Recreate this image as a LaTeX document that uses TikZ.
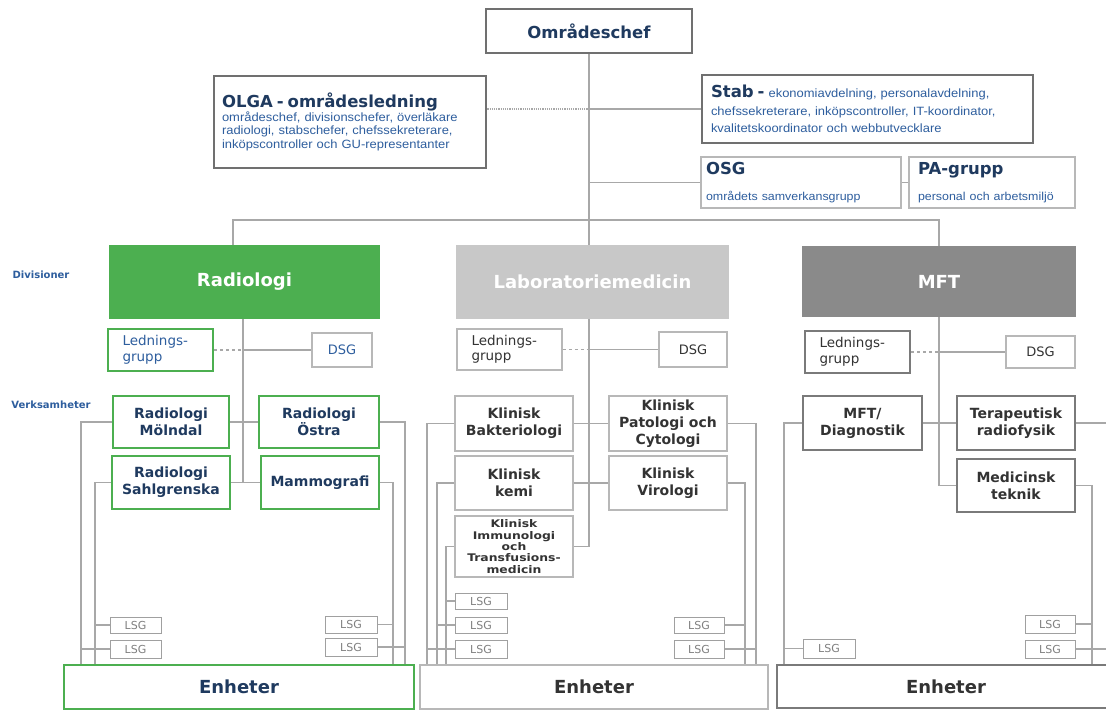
\documentclass[tikz,border=0pt]{standalone}
\usepackage{fontspec}
\setmainfont{DejaVu Sans}
\newfontfamily\smallfont[FakeStretch=1.08]{Liberation Sans}
\newfontfamily\widefont[FakeStretch=1.18]{DejaVu Sans}
\definecolor{navy}{HTML}{1F3A5F}
\definecolor{smallblue}{HTML}{2E5E9E}
\definecolor{labtext}{HTML}{333333}
\definecolor{linegray}{HTML}{A8A8A8}
\definecolor{topborder}{HTML}{707070}
\definecolor{lightborder}{HTML}{B8B8B8}
\definecolor{rgreen}{HTML}{4CAF50}
\definecolor{labfill}{HTML}{C8C8C8}
\definecolor{mftfill}{HTML}{8A8A8A}
\definecolor{mftborder}{HTML}{7A7A7A}
\definecolor{lsgborder}{HTML}{A0A0A0}
\newcommand\obox[7]{\node[#6, minimum width={#4-#2}, minimum height={#5-#3}, inner sep=0pt] (#1) at ({(#2+#4)/2},{(#3+#5)/2}) {#7};}
\begin{document}
\begin{tikzpicture}[x=1pt,y=-1pt,
  conn/.style={draw=linegray, line width=1.2pt},
  topbox/.style={draw=topborder, line width=2.6pt, fill=white, text=navy},
  thinbox/.style={draw=lightborder, line width=1.3pt, fill=white, text=navy},
  headfont/.style={font=\bfseries\fontsize{16.5}{19}\selectfont},
  divbox/.style={text=white, font=\bfseries\fontsize{18}{21}\selectfont},
  gbox/.style={draw=rgreen, line width=2.2pt, fill=white, text=navy, align=center, font=\bfseries\fontsize{14}{17}\selectfont},
  lbox/.style={draw=lightborder, line width=1.5pt, fill=white, text=labtext, align=center, font=\bfseries\fontsize{14}{17}\selectfont},
  mbox/.style={draw=mftborder, line width=2.2pt, fill=white, text=labtext, align=center, font=\bfseries\fontsize{14}{17}\selectfont},
  lednbox/.style={align=left, text width=76pt, font=\fontsize{13.5}{15.5}\selectfont},
  dsgbox/.style={draw=lightborder, line width=1.3pt, fill=white, font=\fontsize{13}{15}\selectfont},
  lsgbox/.style={draw=lsgborder, line width=1pt, fill=white, text=gray, font=\fontsize{11}{12}\selectfont},
  enhbox/.style={fill=white, font=\bfseries\fontsize{18}{21}\selectfont},
  sidelabel/.style={text=smallblue, font=\bfseries\fontsize{10}{12}\selectfont}
]
\clip (0,0) rectangle (1106,711);
\fill[white] (0,0) rectangle (1106,711);

% top level
\obox{chef}{486}{9}{692}{53}{topbox, headfont}{Områdeschef}
\obox{olga}{214}{76}{486}{168}{topbox, align=left, text width=256pt, font=\fontsize{12}{13.4}\selectfont}{{\bfseries\fontsize{16.5}{19}\selectfont OLGA - områdesledning}\\{\smallfont\color{smallblue}\fontsize{12}{13.4}\selectfont områdeschef, divisionschefer, överläkare\\radiologi, stabschefer, chefssekreterare,\\inköpscontroller och GU-representanter}}
\obox{stab}{702}{75}{1033}{143}{topbox, align=left, text width=313pt, font=\fontsize{12}{17.5}\selectfont}{{\bfseries\fontsize{16.5}{17.5}\selectfont Stab -} {\smallfont\color{smallblue}\fontsize{12}{17.5}\selectfont ekonomiavdelning, personalavdelning,\\chefssekreterare, inköpscontroller, IT-koordinator,\\kvalitetskoordinator och webbutvecklare}}
\obox{osg}{701}{157}{901}{208}{thinbox, align=left, text width=190pt, font=\fontsize{12}{26}\selectfont}{{\bfseries\fontsize{16.5}{26}\selectfont OSG}\\{\smallfont\color{smallblue}\fontsize{11.5}{26}\selectfont områdets samverkansgrupp}}
\obox{pa}{909}{157}{1075}{208}{thinbox, align=left, text width=148pt, font=\fontsize{12}{26}\selectfont}{{\bfseries\fontsize{16.5}{26}\selectfont PA-grupp}\\{\smallfont\color{smallblue}\fontsize{11.5}{26}\selectfont personal och arbetsmiljö}}

% side labels
\node[sidelabel] (divlab) at (41,275) {Divisioner};
\node[sidelabel] (verklab) at (51,405) {Verksamheter};

% divisions
\obox{rad}{109}{245}{380}{319}{divbox, fill=rgreen}{Radiologi}
\obox{lab}{456}{245}{729}{319}{divbox, fill=labfill}{Laboratoriemedicin}
\obox{mft}{802}{246}{1076}{317}{divbox, fill=mftfill}{MFT}

% ledningsgrupp / DSG
\obox{rled}{108}{329}{213}{371}{draw=rgreen, line width=2.2pt, fill=white, text=smallblue, lednbox}{Lednings-\\grupp}
\obox{rdsg}{312}{333}{372}{367}{dsgbox, text=smallblue}{DSG}
\obox{lled}{457}{329}{562}{370}{draw=lightborder, line width=1.5pt, fill=white, text=labtext, lednbox}{Lednings-\\grupp}
\obox{ldsg}{659}{332}{727}{367}{dsgbox, text=labtext}{DSG}
\obox{mled}{805}{331}{910}{373}{draw=mftborder, line width=2.2pt, fill=white, text=labtext, lednbox}{Lednings-\\grupp}
\obox{mdsg}{1006}{336}{1075}{368}{dsgbox, text=labtext}{DSG}

% Radiologi verksamheter
\obox{rmol}{113}{396}{229}{448}{gbox}{Radiologi\\Mölndal}
\obox{rost}{259}{396}{379}{448}{gbox}{Radiologi\\Östra}
\obox{rsah}{112}{456}{230}{509}{gbox}{Radiologi\\Sahlgrenska}
\obox{rmam}{261}{456}{379}{509}{gbox}{Mammografi}
\obox{rl1}{110}{617}{161}{633}{lsgbox}{LSG}
\obox{rl2}{110}{640}{161}{658}{lsgbox}{LSG}
\obox{rr1}{325}{616}{377}{633}{lsgbox}{LSG}
\obox{rr2}{325}{638}{377}{656}{lsgbox}{LSG}
\obox{renh}{64}{665}{414}{709}{enhbox, draw=rgreen, line width=2.6pt, text=navy}{Enheter}

% Laboratoriemedicin verksamheter
\obox{lbak}{455}{396}{573}{451}{lbox}{Klinisk\\Bakteriologi}
\obox{lpat}{609}{396}{727}{451}{lbox}{Klinisk\\Patologi och\\Cytologi}
\obox{lkem}{455}{456}{573}{510}{lbox}{Klinisk\\kemi}
\obox{lvir}{609}{456}{727}{510}{lbox}{Klinisk\\Virologi}
\obox{limm}{455}{516}{573}{577}{lbox, font=\widefont\bfseries\fontsize{10.5}{11.4}\selectfont}{Klinisk\\Immunologi\\och\\Transfusions-\\medicin}
\obox{ll1}{455}{593}{507}{609}{lsgbox}{LSG}
\obox{ll2}{455}{617}{507}{633}{lsgbox}{LSG}
\obox{ll3}{455}{640}{507}{658}{lsgbox}{LSG}
\obox{lr1}{674}{617}{724}{633}{lsgbox}{LSG}
\obox{lr2}{674}{640}{724}{658}{lsgbox}{LSG}
\obox{lenh}{420}{665}{768}{709}{enhbox, draw=lightborder, line width=2pt, text=labtext}{Enheter}

% MFT verksamheter
\obox{mdia}{803}{396}{922}{450}{mbox}{MFT/\\Diagnostik}
\obox{mter}{957}{396}{1075}{450}{mbox}{Terapeutisk\\radiofysik}
\obox{mmed}{957}{459}{1075}{512}{mbox}{Medicinsk\\teknik}
\obox{ml1}{803}{639}{855}{658}{lsgbox}{LSG}
\obox{mr1}{1025}{615}{1075}{633}{lsgbox}{LSG}
\obox{mr2}{1025}{640}{1075}{658}{lsgbox}{LSG}
\obox{menh}{777}{665}{1115}{708}{enhbox, draw=mftborder, line width=2.4pt, text=labtext}{Enheter}

% helper x positions
\coordinate (hL) at (233,220);
\coordinate (hR) at (939,220);
\coordinate (xRs) at (243,0);
\coordinate (xRa) at (81,0);
\coordinate (xRb) at (95,0);
\coordinate (xRc) at (393,0);
\coordinate (xRd) at (405,0);
\coordinate (xLs) at (589,0);
\coordinate (xLa) at (427,0);
\coordinate (xLb) at (437,0);
\coordinate (xLc) at (446,0);
\coordinate (xLd) at (745,0);
\coordinate (xLe) at (756,0);
\coordinate (xMs) at (939,0);
\coordinate (xMa) at (784,0);
\coordinate (xMb) at (1092,0);
\coordinate (xMc) at (1110,0);

% top connectors
\draw[conn] (chef.south) -- (chef.south |- lab.north);
\draw[conn] (hL |- rad.north) -- (hL) -- (hR) -- (hR |- mft.north);
\draw[conn, densely dotted] (olga.east |- stab.west) -- (chef.south |- stab.west);
\draw[conn] (chef.south |- stab.west) -- (stab.west);
\draw[conn] (chef.south |- osg.west) -- (osg.west);
\draw[conn] (osg.east) -- (pa.west);

% Radiologi connectors
\draw[conn] (rad.south -| xRs) -- (xRs |- rsah.east);
\draw[conn, dashed] (rled.east) -- (rled.east -| xRs);
\draw[conn] (rled.east -| xRs) -- (rdsg.west);
\draw[conn] (rmol.east) -- (rost.west);
\draw[conn] (rsah.east) -- (rmam.west);
\draw[conn] (rmol.west) -| (xRa |- renh.north);
\draw[conn] (rsah.west) -| (xRb |- renh.north);
\draw[conn] (rost.east) -| (xRd |- renh.north);
\draw[conn] (rmam.east) -| (xRc |- renh.north);
\draw[conn] (rl1.west) -- (rl1.west -| xRb);
\draw[conn] (rl2.west) -- (rl2.west -| xRa);
\draw[conn] (rr1.east) -- (rr1.east -| xRc);
\draw[conn] (rr2.east) -- (rr2.east -| xRd);

% Laboratoriemedicin connectors
\draw[conn] (lab.south -| xLs) |- (limm.east);
\draw[conn, dashed] (lled.east) -- (lled.east -| xLs);
\draw[conn] (lled.east -| xLs) -- (ldsg.west);
\draw[conn] (lbak.east) -- (lpat.west);
\draw[conn] (lkem.east) -- (lvir.west);
\draw[conn] (lbak.west) -| (xLa |- lenh.north);
\draw[conn] (lkem.west) -| (xLb |- lenh.north);
\draw[conn] (limm.west) -| (xLc |- lenh.north);
\draw[conn] (lvir.east) -| (xLd |- lenh.north);
\draw[conn] (lpat.east) -| (xLe |- lenh.north);
\draw[conn] (ll1.west) -- (ll1.west -| xLc);
\draw[conn] (ll2.west) -- (ll2.west -| xLb);
\draw[conn] (ll3.west) -- (ll3.west -| xLa);
\draw[conn] (lr1.east) -- (lr1.east -| xLd);
\draw[conn] (lr2.east) -- (lr2.east -| xLe);

% MFT connectors
\draw[conn] (mft.south -| xMs) |- (mmed.west);
\draw[conn, dashed] (mled.east) -- (mled.east -| xMs);
\draw[conn] (mled.east -| xMs) -- (mdsg.west);
\draw[conn] (mdia.east) -- (mter.west);
\draw[conn] (mdia.west) -| (xMa |- menh.north);
\draw[conn] (mmed.east) -| (xMb |- menh.north);
\draw[conn] (mter.east) -| (xMc |- menh.north);
\draw[conn] (ml1.west) -- (ml1.west -| xMa);
\draw[conn] (mr1.east) -- (mr1.east -| xMb);
\draw[conn] (mr2.east) -- (mr2.east -| xMc);
\end{tikzpicture}
\end{document}
